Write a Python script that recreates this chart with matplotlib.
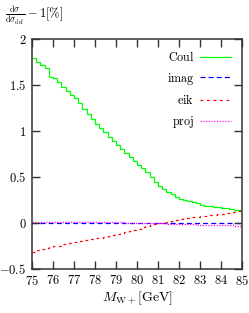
import numpy as np
import matplotlib
matplotlib.use("Agg")
import matplotlib.pyplot as plt

plt.rcParams['mathtext.fontset'] = 'cm'
plt.rcParams['font.family'] = 'serif'
plt.rcParams['font.serif'] = ['DejaVu Serif']
plt.rcParams['axes.formatter.use_mathtext'] = True

# bin edges (0.2 GeV bins)
bin_lo = 75.0
bin_hi = 85.0
n_bins = 50

coul = [1.790, 1.745, 1.717, 1.681, 1.590, 1.572, 1.529, 1.482, 1.438, 1.391,
        1.355, 1.300, 1.235, 1.180, 1.135, 1.080, 1.035, 0.985, 0.938, 0.888,
        0.848, 0.800, 0.757, 0.714, 0.677, 0.635, 0.597, 0.550, 0.500, 0.450,
        0.405, 0.375, 0.340, 0.310, 0.285, 0.265, 0.250, 0.235, 0.225, 0.212,
        0.200, 0.190, 0.185, 0.178, 0.172, 0.168, 0.160, 0.155, 0.145, 0.138]

imag = [0.000, -0.002, -0.003, -0.004, -0.004, -0.004, -0.005, -0.004, -0.004, -0.005,
        -0.004, -0.005, -0.004, -0.005, -0.004, -0.004, -0.005, -0.004, -0.004, -0.005,
        -0.004, -0.004, -0.005, -0.004, -0.004, -0.005, -0.004, -0.005, -0.004, -0.004,
        -0.005, -0.004, -0.005, -0.004, -0.004, -0.005, -0.004, -0.005, -0.004, -0.004,
        -0.005, -0.004, -0.005, -0.004, -0.004, -0.005, -0.004, -0.004, -0.005, -0.004]

eik = [-0.310, -0.298, -0.285, -0.275, -0.265, -0.255, -0.245, -0.232, -0.222, -0.215,
       -0.207, -0.200, -0.190, -0.180, -0.172, -0.165, -0.158, -0.150, -0.140, -0.128,
       -0.117, -0.106, -0.096, -0.086, -0.076, -0.062, -0.048, -0.035, -0.022, -0.011,
       -0.004, 0.002, 0.010, 0.020, 0.030, 0.040, 0.050, 0.057, 0.063, 0.068,
       0.072, 0.078, 0.085, 0.090, 0.096, 0.102, 0.108, 0.115, 0.122, 0.130]

proj = [0.012, 0.015, 0.016, 0.016, 0.015, 0.016, 0.015, 0.015, 0.014, 0.014,
        0.013, 0.013, 0.012, 0.012, 0.011, 0.010, 0.010, 0.009, 0.008, 0.008,
        0.007, 0.006, 0.005, 0.004, 0.003, 0.002, 0.001, 0.000, -0.001, -0.002,
        -0.003, -0.004, -0.006, -0.008, -0.010, -0.012, -0.013, -0.015, -0.016, -0.018,
        -0.019, -0.020, -0.022, -0.023, -0.024, -0.025, -0.026, -0.027, -0.028, -0.030]

series_labels = ['Coul', 'imag', 'eik', 'proj']
xticks = [75, 76, 77, 78, 79, 80, 81, 82, 83, 84, 85]
yticks = [-0.5, 0, 0.5, 1, 1.5, 2]

edges = np.linspace(bin_lo, bin_hi, n_bins + 1)

fig = plt.figure(figsize=(2.49, 3.13), dpi=100)
ax = fig.add_axes([32/249, 1-269/313, 210/249, 230/313])

styles = [
    dict(color='#00ff00', lw=0.9, ls='-'),
    dict(color='#0000ff', lw=0.9, ls=(0, (4, 2.5))),
    dict(color='#ff0000', lw=0.9, ls=(0, (2.2, 3))),
    dict(color='#ff00ff', lw=0.9, ls=(0, (1, 1.2))),
]
for vals, lab, st in zip([coul, imag, eik, proj], series_labels, styles):
    v = np.asarray(vals)
    ax.stairs(v, edges, label=r'$\mathrm{%s}$' % lab, baseline=None, **st)

ax.set_xlim(bin_lo, bin_hi)
ax.set_ylim(-0.5, 2)
ax.set_xticks(xticks)
ax.set_yticks(yticks)
ax.set_xticklabels([r'$%d$' % t for t in xticks])
ax.set_yticklabels([r'$%g$' % t if t >= 0 else r'$-%g$' % (-t) for t in yticks])
ax.tick_params(direction='in', length=5.5, width=1.0, top=True, right=True,
               labelsize=9, color='#333333')
ax.tick_params(axis='x', pad=3.5)
ax.tick_params(axis='y', pad=4)
for s in ax.spines.values():
    s.set_linewidth(1.1)
    s.set_color('#333333')

ax.set_xlabel(r'$M_{\mathrm{W+}}[\mathrm{GeV}]$', fontsize=10, labelpad=1.5)
fig.text(5/249, 1-15/313, r'$\frac{\mathrm{d}\sigma}{\mathrm{d}\sigma_{\mathrm{def}}}-1[\%]$',
         ha='left', va='center', fontsize=9)

leg = ax.legend(loc='upper right', bbox_to_anchor=(1.0, 1.0), frameon=False,
                markerfirst=False, fontsize=8.7, handlelength=2.6,
                handletextpad=0.45, labelspacing=0.55, borderaxespad=0.5)

fig.savefig('out.png', dpi=100)
